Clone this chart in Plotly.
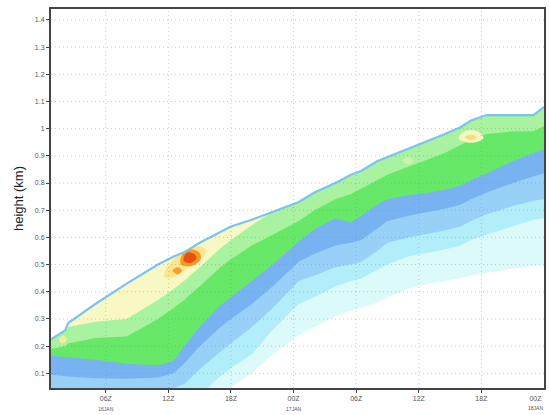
import plotly.graph_objects as go

# Time axis: hours since 00Z 16 JAN
HOURS = [0.75, 2.1, 2.4, 5, 8, 11, 12.5, 13.5, 15, 17, 18, 20, 22, 24.5, 26, 28,
         29.5, 30.5, 32, 33, 35, 37, 38.5, 40, 41, 42.5, 45, 47, 48]

# Cloud top height (km) and the lower edge of each shaded level (km)
TOP = [0.225, 0.258, 0.285, 0.355, 0.43, 0.50, 0.53, 0.545, 0.58, 0.62, 0.64, 0.665,
       0.695, 0.73, 0.765, 0.80, 0.83, 0.845, 0.88, 0.895, 0.925, 0.955, 0.98, 1.005,
       1.03, 1.05, 1.05, 1.05, 1.08]
PALE_YELLOW_BASE = [0.225, 0.258, 0.27, 0.29, 0.30, 0.37, 0.41, 0.44, 0.49, 0.56, 0.59,
                    0.645, 0.695, 0.73, 0.765, 0.80, 0.83, 0.845, 0.88, 0.895, 0.925,
                    0.955, 0.98, 1.005, 1.03, 1.05, 1.05, 1.05, 1.08]
LIGHT_GREEN_BASE = [0.19, 0.20, 0.21, 0.23, 0.235, 0.30, 0.34, 0.37, 0.42, 0.49, 0.52,
                    0.57, 0.61, 0.66, 0.70, 0.74, 0.76, 0.78, 0.81, 0.83, 0.86, 0.89,
                    0.91, 0.94, 0.96, 0.98, 0.99, 0.99, 1.01]
GREEN_BASE = [0.165, 0.16, 0.158, 0.15, 0.135, 0.13, 0.145, 0.20, 0.27, 0.35, 0.38,
              0.44, 0.50, 0.585, 0.63, 0.67, 0.655, 0.68, 0.72, 0.74, 0.755, 0.765,
              0.775, 0.79, 0.81, 0.835, 0.88, 0.91, 0.925]
BLUE_BASE = [0.095, 0.09, 0.088, 0.082, 0.08, 0.085, 0.10, 0.135, 0.20, 0.27, 0.30,
             0.355, 0.42, 0.51, 0.54, 0.57, 0.58, 0.59, 0.63, 0.66, 0.68, 0.695,
             0.705, 0.72, 0.74, 0.765, 0.80, 0.825, 0.835]
LIGHT_BLUE_BASE = [0, 0, 0, 0, 0, 0.03, 0.045, 0.06, 0.115, 0.18, 0.21, 0.27, 0.34,
                   0.44, 0.46, 0.49, 0.50, 0.51, 0.55, 0.58, 0.60, 0.615, 0.625, 0.64,
                   0.66, 0.685, 0.715, 0.735, 0.74]
LIGHT_CYAN_BASE = [0, 0, 0, 0, 0, 0, 0, 0, 0.02, 0.09, 0.12, 0.17, 0.26, 0.355, 0.38,
                   0.42, 0.44, 0.45, 0.48, 0.50, 0.53, 0.545, 0.555, 0.57, 0.59, 0.61,
                   0.64, 0.665, 0.67]
PALE_CYAN_BASE = [0, 0, 0, 0, 0, 0, 0, 0, 0, 0.03, 0.05, 0.10, 0.17, 0.24, 0.27, 0.31,
                  0.33, 0.34, 0.36, 0.38, 0.41, 0.43, 0.44, 0.45, 0.46, 0.47, 0.485,
                  0.495, 0.50]

# Isolated maxima (outlines in hours / km)
YELLOW_CORE_H = [11.6, 12.6, 13.6, 14.8, 15.6, 15.3, 14.2, 13.0, 11.9]
YELLOW_CORE_Z = [0.455, 0.455, 0.48, 0.51, 0.545, 0.565, 0.56, 0.535, 0.49]
ORANGE_H = [13.2, 14.2, 15.1, 14.9, 14.0, 13.3]
ORANGE_Z = [0.50, 0.495, 0.52, 0.547, 0.556, 0.535]
RED_H = [13.5, 14.2, 14.7, 14.5, 13.9, 13.5]
RED_Z = [0.512, 0.507, 0.525, 0.538, 0.545, 0.53]
ORANGE_DOT_H = [12.4, 12.9, 13.3, 12.9]
ORANGE_DOT_Z = [0.478, 0.464, 0.478, 0.49]
RIGHT_PALE_H = [39.8, 41.0, 42.2, 41.6, 40.4]
RIGHT_PALE_Z = [0.965, 0.948, 0.965, 0.99, 0.99]
RIGHT_CORE_H = [40.4, 41.0, 41.6, 41.0]
RIGHT_CORE_Z = [0.968, 0.958, 0.968, 0.978]
MID_PALE_H = [34.4, 35.0, 35.5, 35.0]
MID_PALE_Z = [0.882, 0.868, 0.882, 0.896]
LEFT_SPOT_H = [1.5, 1.9, 2.3, 1.9]
LEFT_SPOT_Z = [0.222, 0.21, 0.224, 0.238]

X_TICKS = [6, 12, 18, 24, 30, 36, 42, 48]
X_LABELS = ["06Z<br><span style='font-size:5px'>16JAN</span>", "12Z", "18Z",
            "00Z<br><span style='font-size:5px'>17JAN</span>", "06Z", "12Z", "18Z",
            "00Z<br><span style='font-size:5px'>18JAN</span>"]
Y_TICKS = [0.1, 0.2, 0.3, 0.4, 0.5, 0.6, 0.7, 0.8, 0.9, 1.0, 1.1, 1.2, 1.3, 1.4]
Y_LABELS = ["0.1", "0.2", "0.3", "0.4", "0.5", "0.6", "0.7", "0.8", "0.9", "1",
            "1.1", "1.2", "1.3", "1.4"]

LEVELS = [
    (PALE_CYAN_BASE, "#dcfafa"),
    (LIGHT_CYAN_BASE, "#b2eefa"),
    (LIGHT_BLUE_BASE, "#98d0f8"),
    (BLUE_BASE, "#78b2f0"),
    (GREEN_BASE, "#68e868"),
    (LIGHT_GREEN_BASE, "#a8f2a0"),
    (PALE_YELLOW_BASE, "#f8f8c4"),
]

fig = go.Figure()

# each level is painted from its lower edge up to the cloud top
for base, colour in LEVELS:
    fig.add_trace(go.Scatter(
        x=HOURS + HOURS[::-1], y=base + TOP[::-1], mode="lines",
        fill="toself", fillcolor=colour, line=dict(width=0),
        hoverinfo="skip", showlegend=False))

blobs = [
    (MID_PALE_H, MID_PALE_Z, "#c8f5a8"),
    (RIGHT_PALE_H, RIGHT_PALE_Z, "#f6f6c0"),
    (RIGHT_CORE_H, RIGHT_CORE_Z, "#f5e17c"),
    (LEFT_SPOT_H, LEFT_SPOT_Z, "#f3ee9a"),
    (YELLOW_CORE_H, YELLOW_CORE_Z, "#fae68c"),
    (ORANGE_DOT_H, ORANGE_DOT_Z, "#f5a032"),
    (ORANGE_H, ORANGE_Z, "#f59a28"),
    (RED_H, RED_Z, "#e65010"),
]
for hx, zz, colour in blobs:
    fig.add_trace(go.Scatter(
        x=hx + hx[:1], y=zz + zz[:1], mode="lines", fill="toself",
        fillcolor=colour, line=dict(width=0, shape="spline"),
        hoverinfo="skip", showlegend=False))

# thin edge along the cloud top
fig.add_trace(go.Scatter(
    x=HOURS, y=TOP, mode="lines", line=dict(color="#7cc4ee", width=2.2),
    hoverinfo="skip", showlegend=False))

grid_line = dict(color="rgba(140,140,140,0.45)", width=1, dash="1px,3px")
shapes = []
for v in Y_TICKS:
    shapes.append(dict(type="line", xref="paper", yref="y", x0=0, x1=1, y0=v, y1=v,
                       layer="above", line=grid_line))
for v in X_TICKS[:-1]:
    shapes.append(dict(type="line", xref="x", yref="paper", x0=v, x1=v, y0=0, y1=1,
                       layer="above", line=grid_line))

axis_font = dict(family="Liberation Sans, Arial, sans-serif", size=7, color="#555")

# last label sits on the right frame edge, kept inside the page
annotations = [dict(x=X_TICKS[-1], y=0, xref="x", yref="paper", xanchor="right",
                    yanchor="top", xshift=1, yshift=-5, showarrow=False,
                    text=X_LABELS[-1], font=axis_font)]

fig.update_layout(
    width=549, height=415,
    margin=dict(l=51, r=3, t=9, b=19),
    paper_bgcolor="white", plot_bgcolor="white",
    shapes=shapes, annotations=annotations,
    xaxis=dict(range=[0.75, 48], tickvals=X_TICKS[:-1], ticktext=X_LABELS[:-1],
               showgrid=False, zeroline=False, showline=True, mirror=True,
               linecolor="#444", linewidth=2, ticks="outside", ticklen=3,
               tickcolor="#444", tickfont=axis_font),
    yaxis=dict(range=[0.046, 1.44], tickvals=Y_TICKS, ticktext=Y_LABELS,
               showgrid=False, zeroline=False, showline=True, mirror=True,
               linecolor="#444", linewidth=2, ticks="outside", ticklen=3,
               tickcolor="#444", tickfont=axis_font,
               title=dict(text="height (km)", standoff=8,
                          font=dict(family="Liberation Sans, Arial, sans-serif",
                                    size=13, color="#222"))),
)

fig.write_html("out.html")
